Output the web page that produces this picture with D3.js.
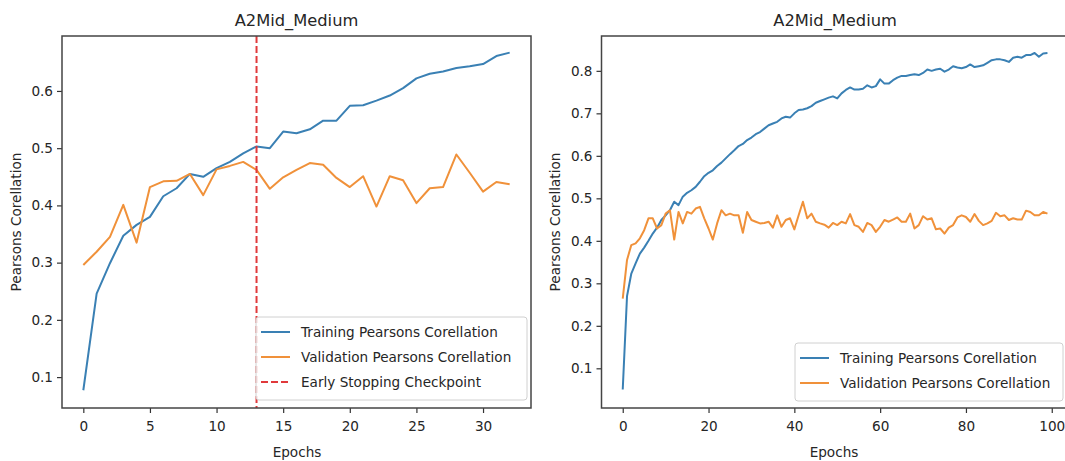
<!DOCTYPE html>
<head>
<meta charset="utf-8">
<script src="https://d3js.org/d3.v7.min.js"></script>
<style>
  body { margin: 0; background: #fff; }
  svg text { font-family: "DejaVu Sans", sans-serif; fill: #262626; }
  .domain { display: none; }
  .tick line { stroke: #333; stroke-width: 1.2; }
</style>
</head>
<body>
<div id="chart"></div>
<script>
  // left plot: 33 epochs, early stopping at 13
  var leftEpochs = d3.range(0, 33);
  var leftTrain = [0.077, 0.246, 0.299, 0.347, 0.366, 0.380, 0.416, 0.430, 0.455, 0.450, 0.465,
                   0.476, 0.491, 0.503, 0.500, 0.529, 0.526, 0.533, 0.548, 0.548, 0.574, 0.575,
                   0.583, 0.592, 0.605, 0.622, 0.630, 0.634, 0.640, 0.643, 0.647, 0.661, 0.667];
  var leftVal = [0.296, 0.319, 0.345, 0.401, 0.335, 0.432, 0.442, 0.443, 0.455, 0.418, 0.463,
                 0.469, 0.476, 0.462, 0.429, 0.449, 0.462, 0.474, 0.471, 0.448, 0.432, 0.451,
                 0.398, 0.451, 0.444, 0.404, 0.430, 0.432, 0.489, 0.457, 0.424, 0.441, 0.437];
  var earlyStop = 13;
  var leftXTicks = [0, 5, 10, 15, 20, 25, 30];
  var leftYTicks = [0.1, 0.2, 0.3, 0.4, 0.5, 0.6];

  // right plot: 100 epochs
  var rightEpochs = d3.range(0, 100);
  var rightTrain = [0.050, 0.270, 0.323, 0.347, 0.370, 0.384, 0.400, 0.417, 0.431, 0.449,
                    0.460, 0.472, 0.492, 0.484, 0.504, 0.513, 0.519, 0.527, 0.539, 0.552,
                    0.560, 0.566, 0.576, 0.584, 0.594, 0.604, 0.613, 0.623, 0.628, 0.637,
                    0.643, 0.651, 0.656, 0.664, 0.672, 0.676, 0.680, 0.688, 0.692, 0.690,
                    0.700, 0.708, 0.709, 0.712, 0.717, 0.725, 0.729, 0.733, 0.737, 0.740,
                    0.735, 0.747, 0.755, 0.761, 0.756, 0.756, 0.758, 0.766, 0.761, 0.764,
                    0.780, 0.770, 0.770, 0.778, 0.784, 0.788, 0.788, 0.790, 0.792, 0.790,
                    0.795, 0.803, 0.800, 0.803, 0.805, 0.798, 0.803, 0.811, 0.808, 0.806,
                    0.809, 0.815, 0.809, 0.811, 0.813, 0.819, 0.825, 0.827, 0.827, 0.825,
                    0.821, 0.831, 0.833, 0.831, 0.837, 0.837, 0.842, 0.833, 0.841, 0.842];
  var rightVal = [0.264, 0.355, 0.390, 0.394, 0.406, 0.425, 0.453, 0.453, 0.429, 0.437,
                  0.464, 0.472, 0.403, 0.468, 0.441, 0.468, 0.464, 0.476, 0.480, 0.453,
                  0.429, 0.403, 0.441, 0.472, 0.460, 0.464, 0.460, 0.460, 0.419, 0.468,
                  0.449, 0.445, 0.441, 0.442, 0.445, 0.431, 0.460, 0.433, 0.449, 0.453,
                  0.427, 0.460, 0.492, 0.453, 0.464, 0.445, 0.441, 0.438, 0.431, 0.442,
                  0.437, 0.445, 0.441, 0.463, 0.437, 0.433, 0.421, 0.442, 0.437, 0.421,
                  0.433, 0.449, 0.445, 0.450, 0.455, 0.445, 0.445, 0.464, 0.429, 0.437,
                  0.458, 0.450, 0.453, 0.427, 0.429, 0.417, 0.431, 0.437, 0.455, 0.460,
                  0.456, 0.445, 0.463, 0.447, 0.437, 0.441, 0.447, 0.466, 0.458, 0.460,
                  0.449, 0.453, 0.450, 0.450, 0.471, 0.468, 0.460, 0.460, 0.468, 0.464];
  var rightXTicks = [0, 20, 40, 60, 80, 100];
  var rightYTicks = [0.1, 0.2, 0.3, 0.4, 0.5, 0.6, 0.7, 0.8];

  var title = "A2Mid_Medium";
  var blue = "#3a80b4", orange = "#f0913a", red = "#e0393b";

  var width = 1065, height = 461;
  var svg = d3.select("#chart").append("svg")
      .attr("width", width)
      .attr("height", height);

  function drawPanel(opts) {
    var x = d3.scaleLinear().domain(opts.xDomain).range(opts.xRange);
    var y = d3.scaleLinear().domain(opts.yDomain).range([408, 36]);
    var g = svg.append("g");

    var line = d3.line()
        .x(function(d) { return x(d[0]); })
        .y(function(d) { return y(d[1]); });

    g.append("g")
        .attr("transform", "translate(0,408)")
        .call(d3.axisBottom(x).tickValues(opts.xTicks).tickSize(5).tickPadding(8).tickFormat(d3.format("d")))
        .selectAll("text").style("font-size", "13.6px");

    g.append("g")
        .attr("transform", "translate(" + opts.xRange[0] + ",0)")
        .call(d3.axisLeft(y).tickValues(opts.yTicks).tickSize(5).tickPadding(4).tickFormat(d3.format(".1f")))
        .selectAll("text").style("font-size", "13.6px");

    var series = [
      { vals: opts.train, color: blue, name: "Training Pearsons Corellation" },
      { vals: opts.val, color: orange, name: "Validation Pearsons Corellation" }
    ];

    series.forEach(function(s) {
      g.append("path")
          .datum(opts.epochs.map(function(e, i) { return [e, s.vals[i]]; }))
          .attr("fill", "none")
          .attr("stroke", s.color)
          .attr("stroke-width", 2)
          .attr("stroke-linejoin", "round")
          .attr("d", line);
    });

    var legendItems = series.slice();
    if (opts.stop != null) {
      g.append("line")
          .attr("x1", x(opts.stop)).attr("x2", x(opts.stop))
          .attr("y1", 36).attr("y2", 408)
          .attr("stroke", red)
          .attr("stroke-width", 2)
          .attr("stroke-dasharray", "7,3");
      legendItems.push({ color: red, name: "Early Stopping Checkpoint", dash: true });
    }

    // frame
    g.append("rect")
        .attr("x", opts.xRange[0]).attr("y", 36)
        .attr("width", opts.xRange[1] - opts.xRange[0]).attr("height", 372)
        .attr("fill", "none")
        .attr("stroke", "#444")
        .attr("stroke-width", 1.5);

    // legend
    var lg = g.append("g").attr("transform", "translate(" + opts.legend[0] + "," + opts.legend[1] + ")");
    lg.append("rect")
        .attr("width", opts.legend[2])
        .attr("height", legendItems.length * 25 + 8)
        .attr("rx", 3)
        .attr("fill", "#fff")
        .attr("fill-opacity", 0.8)
        .attr("stroke", "#d0d0d0");
    legendItems.forEach(function(it, i) {
      var cy = 15 + i * 25;
      lg.append("line")
          .attr("x1", 5).attr("x2", 34)
          .attr("y1", cy).attr("y2", cy)
          .attr("stroke", it.color)
          .attr("stroke-width", 2)
          .attr("stroke-dasharray", it.dash ? "7,3" : null);
      lg.append("text")
          .attr("x", 45).attr("y", cy)
          .attr("dy", "0.35em")
          .style("font-size", "13.6px")
          .text(it.name);
    });

    var cx = (opts.xRange[0] + opts.xRange[1]) / 2;
    g.append("text")
        .attr("x", cx).attr("y", 26)
        .attr("text-anchor", "middle")
        .style("font-size", "16.3px")
        .text(title);

    g.append("text")
        .attr("x", opts.titleX).attr("y", 457)
        .attr("text-anchor", "middle")
        .style("font-size", "13.6px")
        .text("Epochs");

    g.append("text")
        .attr("transform", "translate(" + opts.yLabelX + ",222) rotate(-90)")
        .attr("text-anchor", "middle")
        .style("font-size", "13.6px")
        .text("Pearsons Corellation");
  }

  drawPanel({
    epochs: leftEpochs, train: leftTrain, val: leftVal, stop: earlyStop,
    xDomain: [-1.6, 33.6], xRange: [62, 531],
    yDomain: [0.046, 0.696],
    xTicks: leftXTicks, yTicks: leftYTicks,
    legend: [256, 317, 271], titleX: 297, yLabelX: 21
  });

  drawPanel({
    epochs: rightEpochs, train: rightTrain, val: rightVal, stop: null,
    xDomain: [-4.95, 103.95], xRange: [601.5, 1068.7],
    yDomain: [0.0066, 0.882],
    xTicks: rightXTicks, yTicks: rightYTicks,
    legend: [795, 343, 268], titleX: 834, yLabelX: 560
  });
</script>
</body>
</html>
